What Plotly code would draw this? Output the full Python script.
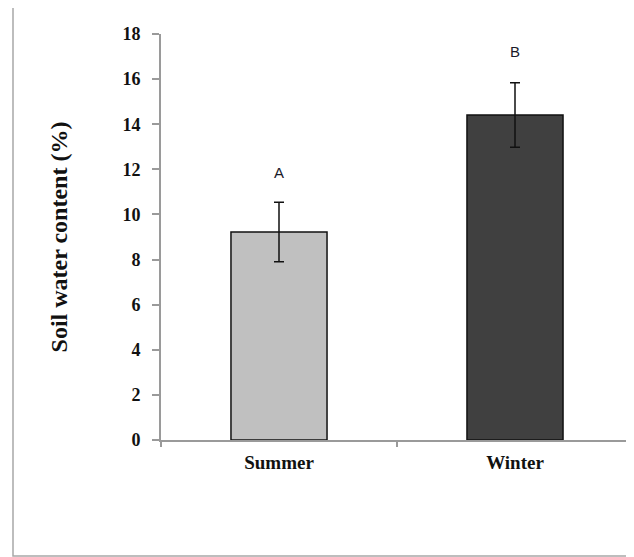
import plotly.graph_objects as go

# data
seasons = ["Summer", "Winter"]
water_content = [9.22, 14.41]
std_err = [1.32, 1.43]
letters = ["A", "B"]
letter_y = [11.8, 17.15]
bar_colors = ["#c0c0c0", "#404040"]

# page body has an 8px margin, so the figure is a little smaller than the window
OFF = 8
W, H = 634 - OFF, 557 - OFF
L, R, T, B = 161 - OFF, 1, 34 - OFF, 117

fig = go.Figure()

fig.add_trace(go.Bar(
    x=seasons, y=water_content,
    width=0.407,
    marker=dict(color=bar_colors, line=dict(color="#111111", width=1.5)),
    error_y=dict(type="data", array=std_err, visible=True,
                 color="#111111", thickness=1.5, width=5),
    hoverinfo="skip",
))

# significance letters
fig.add_trace(go.Scatter(
    x=seasons, y=letter_y,
    mode="text", text=letters,
    textfont=dict(family="Liberation Sans, Arial", size=15, color="#1a1a2a"),
    hoverinfo="skip",
))

# outer frame around the whole picture
pw, ph = W - L - R, H - T - B
fig.add_shape(
    type="rect", xref="paper", yref="paper",
    x0=(13 - OFF - L) / pw, x1=(633 - OFF - L) / pw,
    y0=(H - B - (556 - OFF)) / ph, y1=(H - B - (6 - OFF)) / ph,
    line=dict(color="#a8a8a8", width=1.5),
    layer="below",
)

fig.update_layout(
    width=W, height=H,
    margin=dict(l=L, r=R, t=T, b=B),
    paper_bgcolor="white", plot_bgcolor="white",
    showlegend=False,
    font=dict(family="Liberation Serif, Times New Roman, serif", color="#111111"),
    xaxis=dict(
        type="category",
        range=[-0.5, 1.5],
        showline=True, linecolor="#9a9a9a", linewidth=2,
        ticks="outside", tickson="boundaries", ticklen=5, tickcolor="#9a9a9a", tickwidth=2,
        tickfont=dict(size=19, family="Liberation Serif", weight="bold"),
        ticklabelstandoff=4,
        showgrid=False, zeroline=False,
    ),
    yaxis=dict(
        range=[0, 18], dtick=2,
        showline=True, linecolor="#9a9a9a", linewidth=2,
        ticks="outside", ticklen=7, tickcolor="#9a9a9a", tickwidth=2,
        tickfont=dict(size=18, family="Liberation Serif", weight="bold"),
        ticklabelstandoff=8,
        showgrid=False, zeroline=False,
        title=dict(text="Soil water content (%)",
                   font=dict(size=24, family="Liberation Serif", weight="bold"),
                   standoff=48),
    ),
)

fig.write_html("out.html")
